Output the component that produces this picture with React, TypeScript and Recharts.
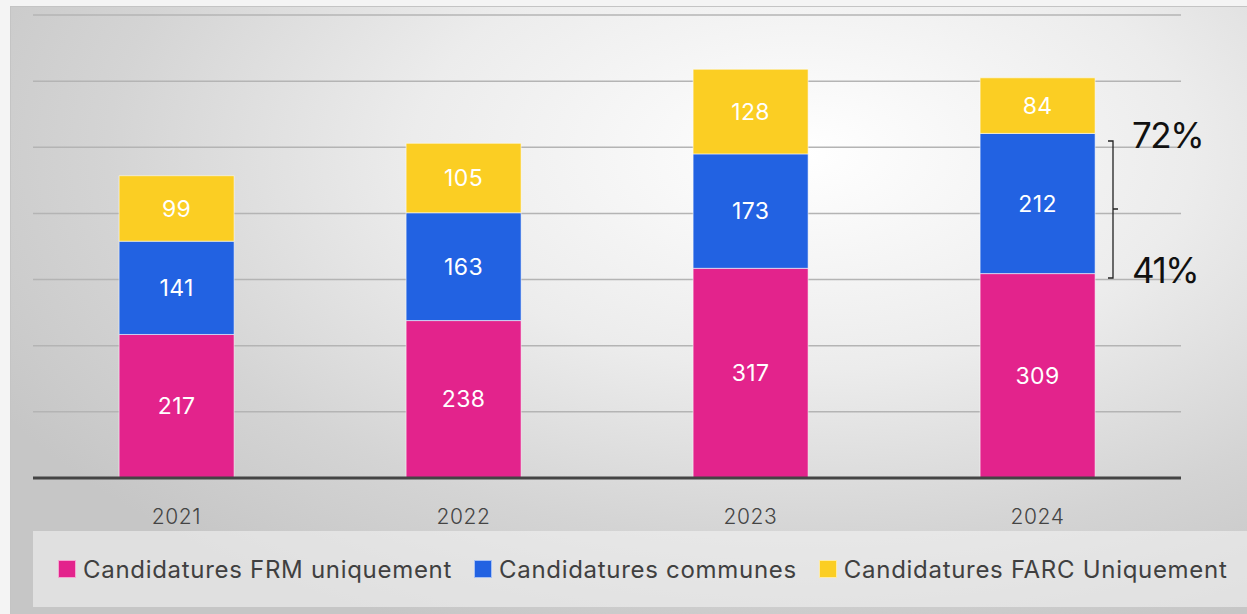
import { BarChart, Bar, XAxis, YAxis, CartesianGrid, LabelList } from "recharts"

// years on the x axis
const years = ["2021", "2022", "2023", "2024"]
// stacked series values
const frmOnly = [217, 238, 317, 309]
const common = [141, 163, 173, 212]
const farcOnly = [99, 105, 128, 84]
// hidden y ticks, they drive the grid lines
const yTicks = [0, 100, 200, 300, 400, 500, 600, 700]

const seriesNames = [
  "Candidatures FRM uniquement",
  "Candidatures communes",
  "Candidatures FARC Uniquement"
]
const seriesColors = ["#E3238C", "#2262E2", "#FBCE23"]

const data = years.map((year, i) => ({
  year,
  frm: frmOnly[i],
  common: common[i],
  farc: farcOnly[i]
}))

const FONT = "Inter, 'Open Sans', sans-serif"

export default function App() {
  return (
    <div
      style={{
        position: "absolute",
        left: 0,
        top: 0,
        width: 1247,
        height: 614,
        background: "#f4f4f4"
      }}
    >
      {/* panel with the soft radial background */}
      <div
        style={{
          position: "absolute",
          left: 10,
          top: 6,
          width: 1237,
          height: 608,
          borderLeft: "1px solid #c4c4c4",
          borderTop: "1px solid #c4c4c4",
          background:
            "radial-gradient(ellipse 75% 85% at 64% 24%, #ffffff 0%, #ececec 42%, #d4d4d4 75%, #c6c6c6 100%)"
        }}
      />
      <div style={{ position: "absolute", left: 0, top: 0 }}>
        <BarChart
          width={1247}
          height={614}
          data={data}
          barCategoryGap="30%"
          margin={{ top: 15, right: 66, bottom: 86, left: 33 }}
        >
          <CartesianGrid vertical={false} stroke="#b4b4b4" strokeWidth={1.5} />
          <YAxis
            domain={[0, 700]}
            ticks={yTicks}
            width={0}
            axisLine={false}
            tickLine={false}
            tick={{ fill: "none", fontSize: 1 }}
          />
          <XAxis
            dataKey="year"
            height={50}
            axisLine={{ stroke: "#444444", strokeWidth: 3 }}
            tickLine={false}
            tickMargin={25}
            tick={{ fill: "#444444", fontSize: 21, fontFamily: FONT, fontWeight: 300, letterSpacing: 0.6 }}
          />
          {(["frm", "common", "farc"] as const).map((key, i) => (
            <Bar
              key={key}
              dataKey={key}
              stackId="a"
              fill={seriesColors[i]}
              stroke="rgba(255,255,255,0.55)"
              strokeWidth={1}
              isAnimationActive={false}
            >
              <LabelList
                dataKey={key}
                position="center"
                fill="#ffffff"
                style={{ fontSize: 23, fontFamily: FONT, letterSpacing: 0.4 }}
              />
            </Bar>
          ))}
        </BarChart>
      </div>
      {/* legend strip */}
      <div
        style={{
          position: "absolute",
          left: 33,
          top: 531,
          width: 1214,
          height: 76,
          display: "flex",
          alignItems: "center",
          background: "rgba(245,245,245,0.55)",
          paddingLeft: 25,
          boxSizing: "border-box",
          fontFamily: FONT,
          fontSize: 24,
          letterSpacing: 0.7,
          color: "#404040",
          whiteSpace: "nowrap",
          overflow: "hidden"
        }}
      >
        {seriesNames.map((name, i) => (
          <div
            key={name}
            style={{ display: "flex", alignItems: "center", marginRight: 22, flexShrink: 0 }}
          >
            <span
              style={{
                display: "inline-block",
                width: 16,
                height: 16,
                background: seriesColors[i],
                border: "1px solid rgba(255,255,255,0.6)",
                marginRight: 7
              }}
            />
            <span>{name}</span>
          </div>
        ))}
      </div>
      {/* bracket annotation next to the 2024 bar */}
      <svg
        width={1247}
        height={614}
        style={{ position: "absolute", left: 0, top: 0, pointerEvents: "none" }}
      >
        <path
          d="M1108,141 L1113,141 L1113,278 L1108,278 M1113,209 L1118,209"
          stroke="#222"
          strokeWidth={1.3}
          fill="none"
        />
        <text x={1132} y={148} fontSize={35} fontFamily={FONT} letterSpacing={-1.5} fill="#111">
          72%
        </text>
        <text x={1132} y={283} fontSize={35} fontFamily={FONT} letterSpacing={-1.5} fill="#111">
          41%
        </text>
      </svg>
    </div>
  )
}
